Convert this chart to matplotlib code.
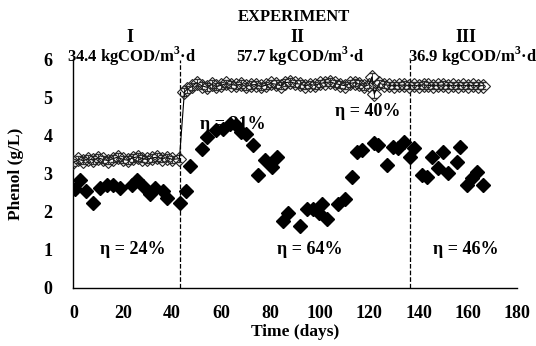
import matplotlib
matplotlib.use("Agg")
import matplotlib.pyplot as plt

# phenol in the influent (open diamonds)
days_in = [0, 2, 4, 6, 8, 10, 12, 14, 16, 18, 20, 22, 24, 26, 28, 30, 32, 34, 36, 38, 40, 43,
           45, 46, 48, 50, 52, 54, 56, 58, 60, 62, 64, 66, 68, 70, 72, 74, 76, 78, 80, 82, 84,
           86, 88, 90, 92, 94, 96, 98, 100, 102, 104, 106, 108, 110, 112, 114, 116, 118, 120,
           121, 122, 124, 126, 128, 130, 132, 134, 136, 138, 140, 142, 144, 146, 148, 150,
           152, 154, 156, 158, 160, 162, 164, 166]
phenol_in = [3.30, 3.38, 3.35, 3.40, 3.36, 3.42, 3.38, 3.35, 3.40, 3.44, 3.38, 3.36, 3.42, 3.45,
             3.40, 3.38, 3.42, 3.44, 3.40, 3.43, 3.38, 3.40,
             5.15, 5.22, 5.30, 5.40, 5.32, 5.28, 5.36, 5.30, 5.33, 5.38, 5.35, 5.33, 5.36, 5.30,
             5.34, 5.35, 5.30, 5.33, 5.38, 5.36, 5.32, 5.40, 5.42, 5.38, 5.36, 5.32, 5.35, 5.33,
             5.38, 5.40, 5.42, 5.38, 5.35, 5.32, 5.38, 5.40, 5.36, 5.30, 5.35, 5.55, 5.10, 5.38,
             5.35, 5.33, 5.32, 5.33, 5.34, 5.32, 5.33, 5.32, 5.34, 5.33, 5.32, 5.33, 5.34, 5.32,
             5.33, 5.32, 5.33, 5.32, 5.33, 5.32, 5.32]

# phenol in the effluent (black diamonds)
days_out = [0.6, 2.6, 5, 7.8, 10.8, 13.5, 16, 19, 23.6, 25.9, 28.3, 31, 33, 36.4, 37.8, 43.2,
            45.5, 47.3, 52, 54, 58, 60.7, 63.5, 66, 68, 70, 73, 75, 77.7, 80.4, 82.5,
            85, 87, 92, 94.6, 97.3, 99.4, 100.7, 102.8, 107.5, 110, 113, 115, 117, 122, 123.6,
            127, 129.7, 131.7, 134, 136.6, 138, 141.3, 143.3, 145.4, 148, 150, 152, 155.5,
            156.9, 159.6, 161.6, 163.6, 166.3]
phenol_out = [2.59, 2.85, 2.55, 2.24, 2.63, 2.72, 2.72, 2.63, 2.72, 2.85, 2.68, 2.46, 2.63, 2.55,
              2.37, 2.24, 2.56, 3.22, 3.65, 3.97, 4.15, 4.19, 4.32, 4.28, 4.10, 4.05, 3.76, 2.98,
              3.37, 3.19, 3.45, 1.77, 1.98, 1.64, 2.07, 2.07, 1.98, 2.20, 1.81, 2.20, 2.33, 2.93,
              3.58, 3.63, 3.80, 3.77, 3.24, 3.71, 3.67, 3.84, 3.45, 3.67, 2.98, 2.93, 3.45, 3.15,
              3.58, 3.02, 3.32, 3.71, 2.72, 2.89, 3.06, 2.72]

phase_changes = [43.2, 136.5]
phase_names = ["I", "II", "III"]
phase_name_x = [23, 91, 159]
phase_loads = ["34.4 kgCOD/m$^\\mathbf{3}$·d", "57.7 kgCOD/m$^\\mathbf{3}$·d", "36.9 kgCOD/m$^\\mathbf{3}$·d"]
phase_load_x = [23.7, 92, 162]
eff_labels = ["η = 24%", "η = 21%", "η = 64%", "η = 40%", "η = 46%"]
eff_x = [24, 64.5, 96, 119.5, 159]
eff_y = [1.0, 4.3, 1.0, 4.65, 1.0]

plt.rcParams['font.family'] = ['Liberation Serif', 'DejaVu Serif']
plt.rcParams['font.weight'] = 'bold'
plt.rcParams['mathtext.fontset'] = 'custom'
plt.rcParams['mathtext.bf'] = 'Liberation Serif:bold'

fig = plt.figure(figsize=(5.36, 3.46), dpi=100)
ax = fig.add_axes([0.137, 0.168, 0.828, 0.659])

# efficiency labels sit under the markers
for t, x, y in zip(eff_labels, eff_x, eff_y):
    ax.text(x, y, t, ha='center', va='center', fontsize=13, fontweight='bold', zorder=1)

ax.errorbar(days_in, phenol_in, yerr=0.1, fmt='-', color='black', lw=0.8,
            ecolor='#333333', elinewidth=0.7, capsize=2.5, zorder=3)
ax.plot(days_in, phenol_in, 'D', ms=7.5, mfc='none', mec='#222222', mew=0.8, zorder=4)

ax.errorbar(days_out, phenol_out, yerr=0.09, fmt='none', ecolor='#555555',
            elinewidth=0.7, capsize=2.5, zorder=3)
ax.plot(days_out, phenol_out, 'D', ms=7.5, color='black', ls='none', zorder=5)

for x in phase_changes:
    ax.axvline(x, color='black', ls='--', lw=0.9, zorder=2)

ax.set_xlim(0, 180)
ax.set_ylim(0, 6)
ax.set_xticks(range(0, 181, 20))
ax.set_yticks(range(0, 7))
ax.tick_params(axis='y', length=0, labelsize=13, pad=15)
ax.tick_params(axis='x', length=0, labelsize=13, pad=12)
for lab in ax.get_xticklabels() + ax.get_yticklabels():
    lab.set_fontweight('bold')
ax.spines['top'].set_visible(False)
ax.spines['right'].set_visible(False)
ax.spines['left'].set_linewidth(1.0)
ax.spines['bottom'].set_linewidth(1.0)

ax.set_xlabel("Time (days)", fontsize=12.5, fontweight='bold', labelpad=2)
ax.set_ylabel("Phenol (g/L)", fontsize=12.5, fontweight='bold', labelpad=14)

fig.text(0.549, 0.95, "EXPERIMENT", ha='center', va='center', fontsize=12, fontweight='bold')
for name, x in zip(phase_names, phase_name_x):
    ax.text(x, 6.6, name, ha='center', va='center', fontsize=13, fontweight='bold')
for load, x in zip(phase_loads, phase_load_x):
    ax.text(x, 6.08, load, ha='center', va='center', fontsize=12, fontweight='bold')

fig.savefig("out.png", dpi=100)
